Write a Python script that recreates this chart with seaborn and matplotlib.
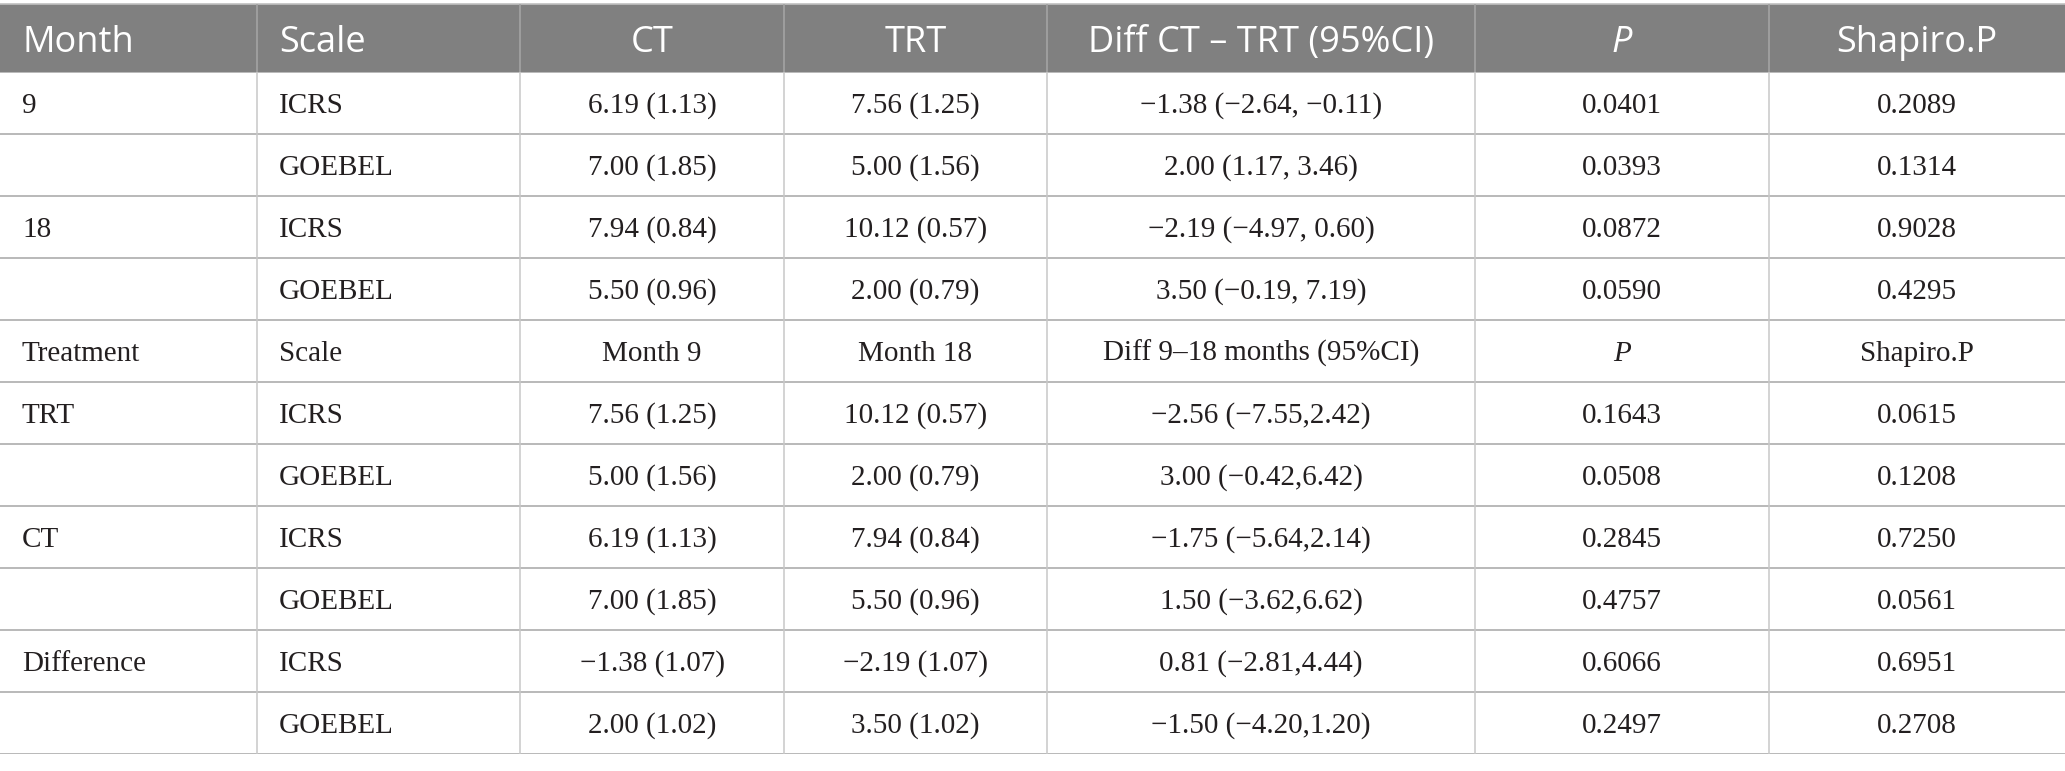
import numpy as np
import matplotlib
matplotlib.use("Agg")
import matplotlib.pyplot as plt
import seaborn as sns
from matplotlib.colors import ListedColormap

# table content
header = ["Month", "Scale", "CT", "TRT", "Diff CT \u2013 TRT (95%CI)", "P", "Shapiro.P"]
group = ["9", "", "18", "", "Treatment", "TRT", "", "CT", "", "Difference", ""]
scale = ["ICRS", "GOEBEL", "ICRS", "GOEBEL", "Scale", "ICRS", "GOEBEL",
         "ICRS", "GOEBEL", "ICRS", "GOEBEL"]
ct = ["6.19 (1.13)", "7.00 (1.85)", "7.94 (0.84)", "5.50 (0.96)", "Month 9",
      "7.56 (1.25)", "5.00 (1.56)", "6.19 (1.13)", "7.00 (1.85)",
      "\u22121.38 (1.07)", "2.00 (1.02)"]
trt = ["7.56 (1.25)", "5.00 (1.56)", "10.12 (0.57)", "2.00 (0.79)", "Month 18",
       "10.12 (0.57)", "2.00 (0.79)", "7.94 (0.84)", "5.50 (0.96)",
       "\u22122.19 (1.07)", "3.50 (1.02)"]
diff = ["\u22121.38 (\u22122.64, \u22120.11)", "2.00 (1.17, 3.46)",
        "\u22122.19 (\u22124.97, 0.60)", "3.50 (\u22120.19, 7.19)",
        "Diff 9\u201318 months (95%CI)",
        "\u22122.56 (\u22127.55,2.42)", "3.00 (\u22120.42,6.42)",
        "\u22121.75 (\u22125.64,2.14)", "1.50 (\u22123.62,6.62)",
        "0.81 (\u22122.81,4.44)", "\u22121.50 (\u22124.20,1.20)"]
pval = ["0.0401", "0.0393", "0.0872", "0.0590", "P", "0.1643", "0.0508",
        "0.2845", "0.4757", "0.6066", "0.2497"]
shapiro = ["0.2089", "0.1314", "0.9028", "0.4295", "Shapiro.P", "0.0615",
           "0.1208", "0.7250", "0.0561", "0.6951", "0.2708"]

columns = [group, scale, ct, trt, diff, pval, shapiro]
italic_cells = {(4, 5)}  # the "P" in the second header row

# layout (pixels)
W, H = 2065, 771
col_edges = [0, 257, 520, 784, 1047, 1475, 1769, 2065]
head_top, head_bot, tab_bot = 4, 72, 754
n_rows = len(group)
row_h = (tab_bot - head_bot) / n_rows
pad = 22

sns.set_theme(style="white")

fig = plt.figure(figsize=(W / 100, H / 100), dpi=100)

# header band
ax_head = fig.add_axes([0, 1 - head_bot / H, 1, (head_bot - head_top) / H])
sns.heatmap(np.ones((1, 1)), cmap=ListedColormap(["#808080"]), cbar=False,
            xticklabels=False, yticklabels=False, ax=ax_head)

# body with horizontal rules (side edges pushed just outside the view)
ax_body = fig.add_axes([0, 1 - tab_bot / H, 1, (tab_bot - head_bot) / H])
sns.heatmap(np.zeros((n_rows, 1)), cmap=ListedColormap(["white"]), cbar=False,
            linewidths=1.3, linecolor="#bababa",
            xticklabels=False, yticklabels=False, ax=ax_body)
ax_body.set_xlim(0.004, 0.996)

# overlay for text and vertical rules
ax = fig.add_axes([0, 0, 1, 1])
ax.set_xlim(0, W)
ax.set_ylim(H, 0)
ax.axis("off")
ax.patch.set_alpha(0)

ax.hlines(head_top, 0, W, color="#c0c0c0", lw=1.2)
for x in col_edges[1:-1]:
    ax.vlines(x, head_top, head_bot, color="#a4a4a4", lw=1.2)
    ax.vlines(x, head_bot, tab_bot, color="#c8c8c8", lw=1.1)

head_font = dict(family=["Open Sans", "DejaVu Sans"], fontsize=26, color="white")
body_font = dict(family=["Liberation Serif", "DejaVu Serif"], fontsize=21,
                 color="#231f20")


def cell_x(j):
    if j < 2:
        return col_edges[j] + pad, "left"
    return (col_edges[j] + col_edges[j + 1]) / 2, "center"


for j, label in enumerate(header):
    x, ha = cell_x(j)
    ax.text(x, (head_top + head_bot) / 2 + 14, label, ha=ha, va="baseline",
            style="italic" if label == "P" else "normal", **head_font)

for j, col in enumerate(columns):
    x, ha = cell_x(j)
    for i, txt in enumerate(col):
        yc = head_bot + (i + 0.5) * row_h
        ax.text(x, yc + 10, txt, ha=ha, va="baseline",
                style="italic" if (i, j) in italic_cells else "normal",
                **body_font)

fig.savefig("out.png", dpi=100)
